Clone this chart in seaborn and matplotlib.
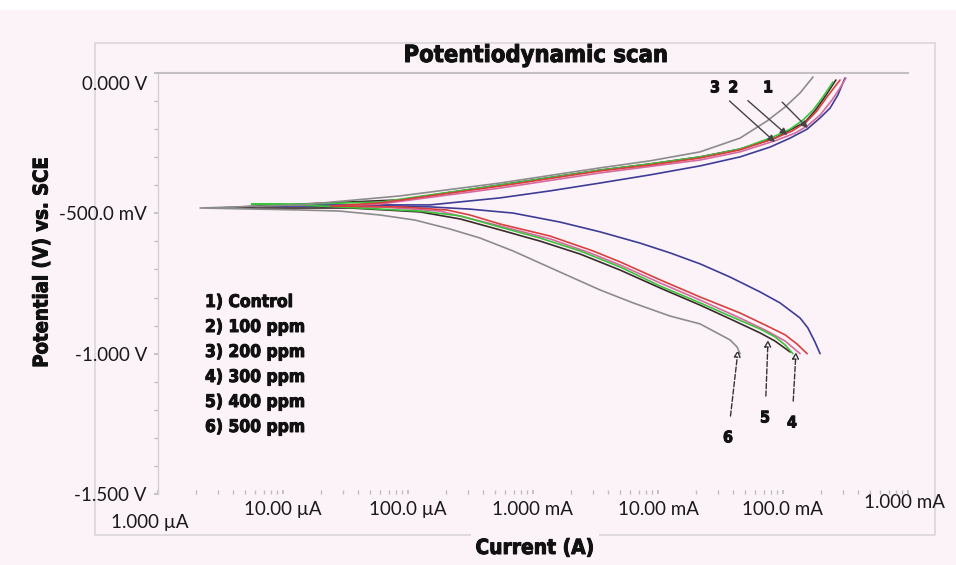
import numpy as np
import pandas as pd
import matplotlib
matplotlib.use("Agg")
import matplotlib.pyplot as plt
import matplotlib.patheffects as pe
import seaborn as sns
from matplotlib.patches import Rectangle
from matplotlib.transforms import ScaledTranslation

# ---------------- data ----------------
samples = ["Control", "100 ppm", "200 ppm", "300 ppm", "400 ppm", "500 ppm"]
legend_lines = ["1) Control", "2) 100 ppm", "3) 200 ppm", "4) 300 ppm", "5) 400 ppm", "6) 500 ppm"]

# each curve: cathodic end (-1.0 V) -> corrosion tip -> anodic end (~0 V)
control_current = [0.198, 0.180, 0.158, 0.137, 0.0946, 0.0655, 0.0377, 0.0217, 0.0125, 7.18e-3, 3.44e-3,
                   1.64e-3, 6.92e-4, 3.13e-4, 1.50e-4, 1.37e-5, 6.5e-6,
                   1.37e-5, 1.50e-4, 5.45e-4, 1.37e-3, 3.44e-3, 8.63e-3, 0.0217, 0.0453, 0.0787, 0.114,
                   0.156, 0.198, 0.238, 0.275, 0.313]
control_potential = [-1.0, -0.958, -0.908, -0.873, -0.819, -0.780, -0.727, -0.680, -0.641, -0.606, -0.566,
                     -0.531, -0.499, -0.485, -0.477, -0.474, -0.474,
                     -0.470, -0.470, -0.445, -0.420, -0.392, -0.363, -0.331, -0.299, -0.264, -0.232,
                     -0.200, -0.160, -0.125, -0.078, -0.018]

ppm100_current = [0.137, 0.104, 0.0745, 0.0453, 0.0217, 0.0104, 4.97e-3, 2.86e-3, 1.37e-3, 5.45e-4,
                  1.80e-4, 5.97e-5, 1.98e-5,
                  5.97e-5, 5.45e-4, 3.44e-3, 0.0217, 0.0453, 0.0895, 0.125, 0.156, 0.198, 0.247,
                  0.286, 0.319]
ppm100_potential = [-1.0, -0.955, -0.919, -0.873, -0.809, -0.748, -0.684, -0.641, -0.591, -0.545,
                    -0.492, -0.477, -0.477,
                    -0.467, -0.410, -0.356, -0.310, -0.281, -0.239, -0.214, -0.189, -0.150, -0.096,
                    -0.053, -0.018]

ppm200_current = [0.114, 0.0863, 0.0655, 0.0377, 0.0217, 0.0104, 4.97e-3, 2.38e-3, 1.14e-3, 5.45e-4,
                  2.61e-4, 1.25e-4, 3.43e-5, 3.02e-6,
                  1.37e-5, 8.63e-5, 5.45e-4, 3.44e-3, 8.63e-3, 0.0217, 0.0453, 0.0863, 0.114, 0.150,
                  0.180, 0.213, 0.265]
ppm200_potential = [-0.994, -0.955, -0.926, -0.876, -0.827, -0.766, -0.702, -0.645, -0.599, -0.559,
                    -0.520, -0.495, -0.481, -0.481,
                    -0.467, -0.452, -0.399, -0.346, -0.324, -0.299, -0.271, -0.232, -0.203, -0.175,
                    -0.135, -0.089, -0.025]

ppm300_current = [0.120, 0.104, 0.0863, 0.0655, 0.0377, 0.0217, 0.0104, 4.97e-3, 2.38e-3, 1.14e-3,
                  5.45e-4, 2.61e-4, 1.25e-4, 5.97e-5, 1.37e-5, 5.6e-6,
                  1.37e-5, 5.97e-5, 5.45e-4, 3.44e-3, 8.63e-3, 0.0217, 0.0453, 0.0832, 0.114, 0.145,
                  0.174, 0.209, 0.251]
ppm300_potential = [-1.0, -0.969, -0.940, -0.912, -0.866, -0.819, -0.759, -0.691, -0.634, -0.588,
                    -0.549, -0.509, -0.492, -0.485, -0.470, -0.467,
                    -0.467, -0.460, -0.399, -0.346, -0.324, -0.299, -0.271, -0.228, -0.200, -0.167,
                    -0.132, -0.085, -0.032]

ppm400_current = [0.156, 0.129, 0.104, 0.0745, 0.0453, 0.0217, 0.0104, 4.97e-3, 3.02e-3, 1.37e-3,
                  5.45e-4, 3.13e-4, 2.05e-4, 8.63e-5, 2.4e-5,
                  5.97e-5, 5.45e-4, 3.44e-3, 8.63e-3, 0.0217, 0.0453, 0.0832, 0.118, 0.153, 0.187,
                  0.225, 0.286]
ppm400_potential = [-1.0, -0.965, -0.933, -0.901, -0.855, -0.798, -0.737, -0.673, -0.634, -0.581,
                    -0.538, -0.506, -0.488, -0.477, -0.474,
                    -0.463, -0.403, -0.349, -0.328, -0.303, -0.274, -0.235, -0.207, -0.175, -0.135,
                    -0.085, -0.025]

ppm500_current = [0.0453, 0.0429, 0.0377, 0.0296, 0.0217, 0.0125, 6.31e-3, 3.44e-3, 1.64e-3, 6.92e-4,
                  3.77e-4, 2.17e-4, 1.14e-4, 5.97e-5, 2.86e-5, 1.37e-5, 2.17e-6,
                  1.37e-5, 8.63e-5, 5.45e-4, 3.44e-3, 8.63e-3, 0.0217, 0.0453, 0.0745, 0.104, 0.137,
                  0.174]
ppm500_potential = [-1.0, -0.976, -0.951, -0.926, -0.894, -0.866, -0.819, -0.773, -0.709, -0.634,
                    -0.588, -0.556, -0.524, -0.506, -0.492, -0.488, -0.481,
                    -0.470, -0.438, -0.392, -0.338, -0.313, -0.281, -0.232, -0.171, -0.121, -0.071,
                    -0.014]

colors = ["#3d3d96", "#d66aa0", "#3a2a2a", "#3cc23c", "#d84040", "#8c8c8c"]

x_ticks = [1e-6, 1e-5, 1e-4, 1e-3, 1e-2, 1e-1, 1.0]
x_tick_labels = ["1.000 µA", "10.00 µA", "100.0 µA", "1.000 mA", "10.00 mA", "100.0 mA", "1.000 mA"]
y_ticks = [0.0, -0.5, -1.0, -1.5]
y_tick_labels = ["0.000 V", "-500.0 mV", "-1.000 V", "-1.500 V"]

# annotation numbers: (label, text position, arrow target) in data units
top_notes = [("3", (0.0286, -0.053), (0.0863, -0.246)),
             ("2", (0.0400, -0.053), (0.108, -0.221)),
             ("1", (0.0759, -0.053), (0.158, -0.196))]
bottom_notes = [("6", (0.0363, -1.300), (0.0437, -0.987)),
                ("5", (0.0718, -1.229), (0.0759, -0.951)),
                ("4", (0.118, -1.247), (0.127, -0.994))]

# ---------------- build table ----------------
curves = [(control_current, control_potential), (ppm100_current, ppm100_potential),
          (ppm200_current, ppm200_potential), (ppm300_current, ppm300_potential),
          (ppm400_current, ppm400_potential), (ppm500_current, ppm500_potential)]
frames = []
for name, (cur, pot) in zip(samples, curves):
    frames.append(pd.DataFrame({"sample": name, "current": cur, "potential": pot}))
df = pd.concat(frames, ignore_index=True)

# ---------------- style ----------------
BG = "#fcf3f8"
sns.set_theme(style="white")
plt.rcParams["font.family"] = ["Lato", "DejaVu Sans"]
STROKE = [pe.withStroke(linewidth=0.7, foreground="#111")]
HEAVY = dict(family=["DejaVu Sans"], stretch="condensed", weight="bold", color="#111",
             path_effects=STROKE)

fig = plt.figure(figsize=(9.56, 5.65), dpi=100, facecolor=BG)
fig.add_artist(Rectangle((0, 1 - 10 / 565), 1, 10 / 565, transform=fig.transFigure,
                         fc="white", ec="none", zorder=0))
fig.add_artist(Rectangle((95 / 956, 1 - 535 / 565), 840 / 956, 492 / 565, transform=fig.transFigure,
                         fill=False, ec="#d9d6d8", lw=1.2, zorder=0))

ax = fig.add_axes([158 / 956, 1 - 494 / 565, 750 / 956, 421 / 565])
ax.patch.set_alpha(0)
ax.set_xscale("log")

sns.lineplot(data=df, x="current", y="potential", hue="sample", hue_order=samples,
             palette=dict(zip(samples, colors)), sort=False, estimator=None,
             legend=False, lw=1.2, ax=ax)

ax.set_xlim(1e-6, 1.0)
ax.set_ylim(-1.5, 0.0)
ax.set_xlabel("")
ax.set_ylabel("")

ax.set_xticks(x_ticks)
ax.set_xticklabels(x_tick_labels)
ax.xaxis.set_minor_locator(matplotlib.ticker.LogLocator(base=10, subs=np.arange(2, 10)))
ax.xaxis.set_minor_formatter(matplotlib.ticker.NullFormatter())
ax.set_yticks(y_ticks)
ax.set_yticklabels(y_tick_labels)
ax.set_yticks(np.arange(-1.5, 0.01, 0.1), minor=True)

ax.tick_params(axis="x", which="both", direction="in", length=3, color="#bdbdbd",
               labelsize=13.5, pad=5, labelcolor="#1a1a1a", bottom=True)
ax.tick_params(axis="y", which="both", direction="out", length=3, color="#bdbdbd",
               labelsize=13.5, pad=5, labelcolor="#1a1a1a", left=True)

for s in ["right", "bottom"]:
    ax.spines[s].set_visible(False)
ax.spines["top"].set_color("#c4c0c2")
ax.spines["top"].set_linewidth(1.5)
ax.spines["left"].set_color("#d4d0d2")
ax.spines["left"].set_linewidth(1.0)

# label offsets as in the reference
xl = ax.get_xticklabels()
xl[0].set_transform(xl[0].get_transform() + ScaledTranslation(-0.08, -0.13, fig.dpi_scale_trans))
xl[-1].set_transform(xl[-1].get_transform() + ScaledTranslation(-0.03, 0.07, fig.dpi_scale_trans))
yl = ax.get_yticklabels()
yl[0].set_transform(yl[0].get_transform() + ScaledTranslation(0, -0.10, fig.dpi_scale_trans))

# ---------------- texts ----------------
fig.text(535.5 / 956, 1 - 55 / 565, "Potentiodynamic scan", ha="center", va="center",
         fontsize=17, **HEAVY)
fig.text(42 / 956, 1 - 263 / 565, "Potential (V) vs. SCE", ha="center", va="center",
         rotation=90, fontsize=14.5, bbox=dict(fc=BG, ec="none", pad=3), **HEAVY)
fig.text(535 / 956, 1 - 548 / 565, "Current (A)", ha="center", va="center",
         fontsize=15, bbox=dict(fc=BG, ec="none", pad=3), **HEAVY)

for i, t in enumerate(legend_lines):
    fig.text(205 / 956, 1 - (302 + 25 * i) / 565, t, ha="left", va="center",
             fontsize=12.5, **HEAVY)

for lab, txt, tgt in top_notes:
    ax.annotate(lab, xy=tgt, xytext=txt, ha="center", va="center", fontsize=11.5,
                arrowprops=dict(arrowstyle="-|>", color="#444", lw=1.0, shrinkA=6, shrinkB=0,
                                mutation_scale=10), **HEAVY)
for lab, txt, tgt in bottom_notes:
    ax.annotate(lab, xy=tgt, xytext=txt, ha="center", va="center", fontsize=11.5,
                arrowprops=dict(arrowstyle="-|>", fc="white", ec="#333", lw=1.0,
                                linestyle="--", shrinkA=8, shrinkB=0, mutation_scale=10), **HEAVY)

fig.savefig("out.png", dpi=100, facecolor=BG)
